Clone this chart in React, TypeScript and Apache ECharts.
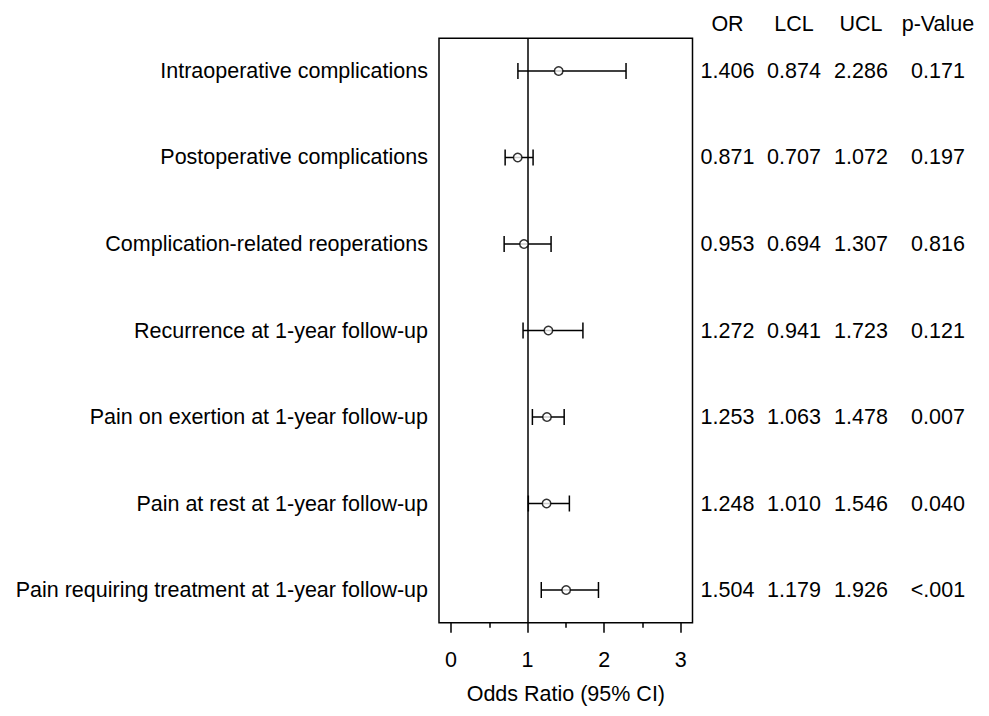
import React, { useEffect, useRef } from "react";
import * as echarts from "echarts";

const rowLabels = [
  "Intraoperative complications",
  "Postoperative complications",
  "Complication-related reoperations",
  "Recurrence at 1-year follow-up",
  "Pain on exertion at 1-year follow-up",
  "Pain at rest at 1-year follow-up",
  "Pain requiring treatment at 1-year follow-up",
];
const orValues = [1.406, 0.871, 0.953, 1.272, 1.253, 1.248, 1.504];
const lclValues = [0.874, 0.707, 0.694, 0.941, 1.063, 1.01, 1.179];
const uclValues = [2.286, 1.072, 1.307, 1.723, 1.478, 1.546, 1.926];
const pValues = ["0.171", "0.197", "0.816", "0.121", "0.007", "0.040", "<.001"];
const tableHeaders = ["OR", "LCL", "UCL", "p-Value"];
const xTicks = [0, 1, 2, 3];

const FONT = "'Liberation Sans', Arial, sans-serif";
const FS = 21.5;

export default function App() {
  const ref = useRef<HTMLDivElement>(null);
  useEffect(() => {
    if (!ref.current) return;
    const chart = echarts.init(ref.current, null, { renderer: "svg" });

    const colX = [727.5, 794, 861, 938];
    const gridTop = 38.3;
    const gridBottom = 716 - 622.7;
    const boxLeft = 439;
    const boxRight = 692.5;
    const axis0 = 451;
    const axis3 = 680.7;
    const pxPerUnit = (axis3 - axis0) / 3;
    const xMin = (boxLeft - axis0) / pxPerUnit;
    const xMax = (boxRight - axis0) / pxPerUnit;
    const yPad = 0.378;

    const option: any = {
      animation: false,
      backgroundColor: "#fff",
      grid: [
        {
          left: boxLeft,
          width: boxRight - boxLeft,
          top: gridTop,
          bottom: gridBottom,
          show: true,
          borderColor: "#000",
          borderWidth: 1.5,
          backgroundColor: "transparent",
        },
        {
          left: axis0,
          width: axis3 - axis0,
          top: gridTop,
          bottom: gridBottom,
        },
      ],
      xAxis: [
        { type: "value", gridIndex: 0, min: xMin, max: xMax, show: false },
        {
          type: "value",
          gridIndex: 1,
          min: xTicks[0],
          max: xTicks[xTicks.length - 1],
          interval: 1,
          position: "bottom",
          axisLine: { show: false, onZero: false },
          axisTick: { show: true, length: 10, lineStyle: { color: "#000", width: 1.5 } },
          minorTick: { show: true, splitNumber: 2, length: 5, lineStyle: { color: "#000", width: 1.5 } },
          splitLine: { show: false },
          axisLabel: { margin: 26, fontFamily: FONT, fontSize: FS, color: "#000" },
          name: "Odds Ratio (95% CI)",
          nameLocation: "middle",
          nameGap: 60,
          nameTextStyle: { fontFamily: FONT, fontSize: FS, color: "#000" },
        },
      ],
      yAxis: [
        { type: "value", gridIndex: 0, inverse: true, min: -yPad, max: rowLabels.length - 1 + yPad, show: false },
        { type: "value", gridIndex: 1, inverse: true, min: -yPad, max: rowLabels.length - 1 + yPad, show: false },
      ],
      graphic: tableHeaders.map((h, i) => ({
        type: "text",
        x: colX[i],
        y: 24,
        style: { text: h, fontFamily: FONT, fontSize: FS, fill: "#000", align: "center", verticalAlign: "middle" },
      })),
      series: [
        {
          type: "custom",
          xAxisIndex: 0,
          yAxisIndex: 0,
          clip: false,
          data: rowLabels.map((_, i) => [lclValues[i], uclValues[i], i]),
          renderItem: (params: any, api: any) => {
            const idx = api.value(2);
            const p1 = api.coord([api.value(0), idx]);
            const p2 = api.coord([api.value(1), idx]);
            const h = 8;
            const st = { stroke: "#000", lineWidth: 1.5 };
            return {
              type: "group",
              children: [
                { type: "line", shape: { x1: p1[0], y1: p1[1], x2: p2[0], y2: p2[1] }, style: st },
                { type: "line", shape: { x1: p1[0], y1: p1[1] - h, x2: p1[0], y2: p1[1] + h }, style: st },
                { type: "line", shape: { x1: p2[0], y1: p2[1] - h, x2: p2[0], y2: p2[1] + h }, style: st },
              ],
            };
          },
        },
        {
          type: "scatter",
          xAxisIndex: 0,
          yAxisIndex: 0,
          symbol: "circle",
          symbolSize: 8.5,
          itemStyle: { color: "#fff", borderColor: "#000", borderWidth: 1.5 },
          data: orValues.map((v, i) => [v, i]),
          z: 5,
          markLine: {
            silent: true,
            symbol: "none",
            label: { show: false },
            lineStyle: { color: "#000", type: "solid", width: 1.5 },
            data: [{ xAxis: 1 }],
          },
        },
        {
          type: "custom",
          xAxisIndex: 0,
          yAxisIndex: 0,
          clip: false,
          data: rowLabels.map((_, i) => [0, i]),
          renderItem: (params: any, api: any) => {
            const i = params.dataIndex;
            const y = api.coord([0, api.value(1)])[1];
            const cells = [
              orValues[i].toFixed(3),
              lclValues[i].toFixed(3),
              uclValues[i].toFixed(3),
              pValues[i],
            ];
            const children: any[] = [
              {
                type: "text",
                x: 428,
                y,
                style: { text: rowLabels[i], fontFamily: FONT, fontSize: FS, fill: "#000", align: "right", verticalAlign: "middle" },
              },
            ];
            cells.forEach((c, k) => {
              children.push({
                type: "text",
                x: colX[k],
                y,
                style: { text: c, fontFamily: FONT, fontSize: FS, fill: "#000", align: "center", verticalAlign: "middle" },
              });
            });
            return { type: "group", children };
          },
        },
      ],
    };
    chart.setOption(option);
    return () => chart.dispose();
  }, []);
  return <div ref={ref} style={{ position: "absolute", left: 0, top: 0, width: 989, height: 716 }} />;
}
